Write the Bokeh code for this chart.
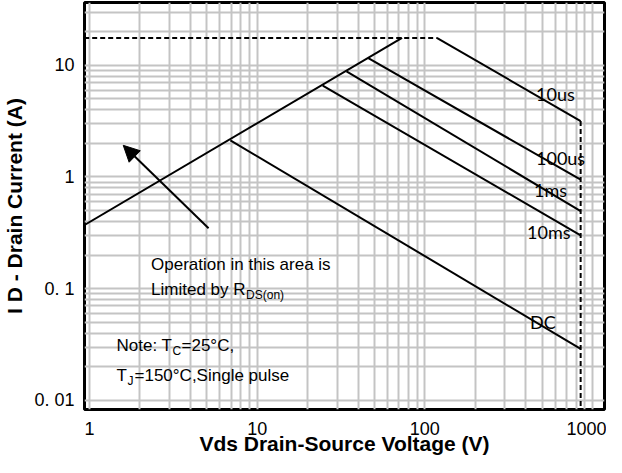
from bokeh.plotting import figure
from bokeh.models import (FixedTicker, Label, Arrow, NormalHead, Range1d)
from bokeh.embed import file_html
from bokeh.resources import INLINE

# ---------------- data ----------------
x_ticks = [1, 10, 100, 1000]
x_tick_labels = ["1", "10", "100", "1000"]
y_ticks = [0.01, 0.1, 1, 10]
y_tick_labels = ["0. 01", "0. 1", "1", "10"]

# R_DS(on) limit line
rds_x = [0.93, 73.1]
rds_y = [0.37, 17.6]
# current limit (dashed)
ilim_x = [0.93, 117.8]
ilim_y = [17.6, 17.6]
# pulse lines
us10_x = [117.8, 849]
us10_y = [17.6, 3.17]
us100_x = [46.0, 849]
us100_y = [11.6, 0.945]
ms1_x = [34.1, 849]
ms1_y = [8.82, 0.495]
ms10_x = [24.6, 849]
ms10_y = [6.59, 0.30]
dc_x = [6.92, 849]
dc_y = [2.13, 0.0289]
# voltage limit (dashed)
vlim_x = [849, 849]
vlim_y = [3.17, 0.005]

curve_labels = ["10us", "100us", "1ms", "10ms", "DC"]
curve_label_x = [460, 460, 448, 407, 424]
curve_label_y = [5.57, 1.47, 0.767, 0.319, 0.0508]

arrow_start = (5.13, 0.347)
arrow_end = (1.59, 1.92)

note_x = 2.33
op_y = [0.164, 0.0992]
note_x2 = 1.45
note_y = [0.0313, 0.0167]

x_title = "Vds Drain-Source Voltage (V)"
y_title = "I D - Drain Current (A)"

# ---------------- figure ----------------
x0, x1 = 0.934, 1178
y0, y1 = 0.00828, 36.5
p = figure(width=606, height=457, x_axis_type="log", y_axis_type="log",
           x_range=Range1d(x0, x1), y_range=Range1d(y0, y1),
           output_backend="svg", toolbar_location=None,
           min_border_left=80, min_border_right=2, min_border_top=2,
           min_border_bottom=0)

p.background_fill_color = "white"
p.outline_line_color = "black"
p.outline_line_width = 3

x_minor = [m * d for d in (1, 10, 100) for m in range(2, 10)]
y_minor = [m * d for d in (0.01, 0.1, 1, 10) for m in range(2, 10)]
p.xaxis.ticker = FixedTicker(ticks=x_ticks, minor_ticks=x_minor)
p.yaxis.ticker = FixedTicker(ticks=y_ticks, minor_ticks=y_minor)
p.xaxis.major_label_overrides = {t: l for t, l in zip(x_ticks, x_tick_labels)}
p.yaxis.major_label_overrides = {t: l for t, l in zip(y_ticks, y_tick_labels)}

for ax in (p.xaxis, p.yaxis):
    ax.axis_line_color = None
    ax.major_tick_line_color = None
    ax.minor_tick_line_color = None
    ax.major_tick_out = 0
    ax.major_tick_in = 0
    ax.minor_tick_out = 0
    ax.minor_tick_in = 0
    ax.major_label_text_font = "Liberation Sans"
    ax.major_label_text_font_size = "18px"
    ax.major_label_text_color = "black"
    ax.axis_label_text_font = "Liberation Sans"
    ax.axis_label_text_font_style = "bold"
    ax.axis_label_text_font_size = "21px"
    ax.axis_label_text_color = "black"

p.xaxis.axis_label = x_title
p.yaxis.axis_label = y_title
p.xaxis.major_label_standoff = 12
p.xaxis.axis_label_standoff = -6
p.yaxis.major_label_standoff = 10
p.yaxis.axis_label_standoff = 5

for g in (p.xgrid, p.ygrid):
    g.grid_line_color = "#c4c4c4"
    g.grid_line_width = 2
    g.grid_line_alpha = 1
    g.minor_grid_line_color = "#c4c4c4"
    g.minor_grid_line_width = 2

lw = 2
p.line(rds_x, rds_y, line_color="black", line_width=lw)
p.line(ilim_x, ilim_y, line_color="black", line_width=lw, line_dash="5 3")
p.line(vlim_x, vlim_y, line_color="black", line_width=lw, line_dash="5 3")
for xs, ys in ((us10_x, us10_y), (us100_x, us100_y), (ms1_x, ms1_y),
               (ms10_x, ms10_y), (dc_x, dc_y)):
    p.line(xs, ys, line_color="black", line_width=lw)

for t, x, y in zip(curve_labels, curve_label_x, curve_label_y):
    p.add_layout(Label(x=x, y=y, text=t, text_font="Lato", text_font_size="18px",
                       text_baseline="middle", text_align="left", text_color="black"))

p.add_layout(Arrow(end=NormalHead(size=16, fill_color="black", line_color="black"),
                   x_start=arrow_start[0], y_start=arrow_start[1],
                   x_end=arrow_end[0], y_end=arrow_end[1],
                   line_color="black", line_width=2))

def lab(x, y, text, size="17px", xo=0, yo=0):
    p.add_layout(Label(x=x, y=y, text=text, text_font="Liberation Sans",
                       text_font_size=size, text_baseline="middle",
                       text_align="left", text_color="black",
                       x_offset=xo, y_offset=yo))

lab(note_x, op_y[0], "Operation in this area is")
lab(note_x, op_y[1], "Limited by R")
lab(note_x, op_y[1], "DS(on)", size="12px", xo=95, yo=-6)
lab(note_x2, note_y[0], "Note: T")
lab(note_x2, note_y[0], "C", size="12px", xo=56, yo=-6)
lab(note_x2, note_y[0], "=25°C,", xo=65)
lab(note_x2, note_y[1], "T")
lab(note_x2, note_y[1], "J", size="12px", xo=11, yo=-6)
lab(note_x2, note_y[1], "=150°C,Single pulse", xo=18)

open("out.html", "w").write(file_html(p, INLINE))
